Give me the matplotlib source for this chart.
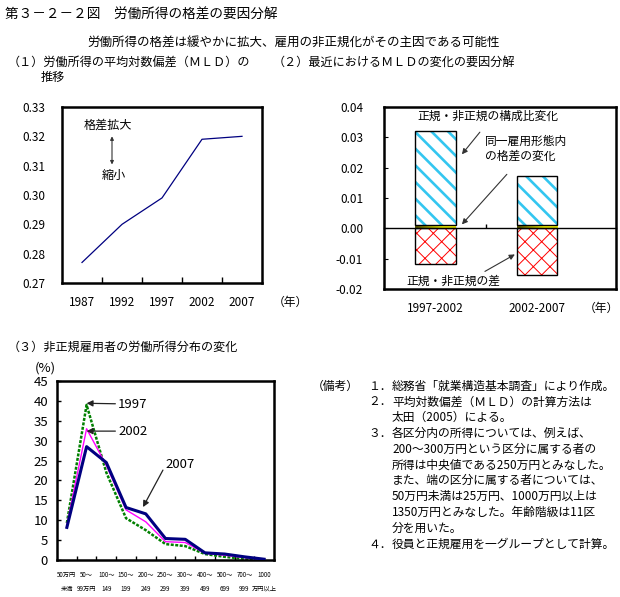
import matplotlib
matplotlib.use('Agg')
import numpy as np
import matplotlib.pyplot as plt
from matplotlib.colors import LinearSegmentedColormap

plt.rcParams['font.family'] = ['Noto Sans CJK JP', 'DejaVu Sans']

W, H = 620, 597

# (1) MLD trend
mld_years = ['1987', '1992', '1997', '2002', '2007']
mld_values = [0.277, 0.290, 0.299, 0.319, 0.320]

# (2) decomposition of MLD change
periods = ['1997-2002', '2002-2007']
within_change = [0.001, 0.001]
composition_change = [0.031, 0.0164]
gap_change = [-0.0119, -0.0155]

# (3) income distribution of non-regular workers (%)
income_top = ['50万円', '50～', '100～', '150～', '200～', '250～', '300～', '400～', '500～', '700～', '1000']
income_bottom = ['未満', '99万円', '149', '199', '249', '299', '399', '499', '699', '999', '万円以上']
share_1997 = [9.3, 39.0, 22.0, 10.5, 7.5, 4.0, 3.5, 1.5, 0.8, 0.3, 0.0]
share_2002 = [8.8, 33.0, 23.8, 12.6, 9.6, 4.6, 4.4, 1.7, 1.2, 0.6, 0.2]
share_2007 = [8.2, 28.5, 24.5, 13.2, 11.6, 5.4, 5.2, 1.8, 1.5, 0.8, 0.2]

notes = [
    ('１．', '総務省「就業構造基本調査」により作成。'),
    ('２．', '平均対数偏差（ＭＬＤ）の計算方法は'),
    ('', '太田（2005）による。'),
    ('３．', '各区分内の所得については、例えば、'),
    ('', '200～300万円という区分に属する者の'),
    ('', '所得は中央値である250万円とみなした。'),
    ('', 'また、端の区分に属する者については、'),
    ('', '50万円未満は25万円、1000万円以上は'),
    ('', '1350万円とみなした。年齢階級は11区'),
    ('', '分を用いた。'),
    ('４．', '役員と正規雇用を一グループとして計算。'),
]


def fx(x):
    return x / W


def fy(y):
    return 1 - y / H


def box(left, top, right, bottom):
    return [fx(left), fy(bottom), (right - left) / W, (bottom - top) / H]


fig = plt.figure(figsize=(6.2, 5.97), dpi=100)

fig.text(fx(5), fy(15), '第３－２－２図　労働所得の格差の要因分解', fontsize=9.8, va='center')
fig.text(fx(294), fy(43), '労働所得の格差は緩やかに拡大、雇用の非正規化がその主因である可能性',
         fontsize=9, va='center', ha='center')
fig.text(fx(8), fy(62), '（１）労働所得の平均対数偏差（ＭＬＤ）の', fontsize=8.7, va='center')
fig.text(fx(41), fy(77), '推移', fontsize=8.7, va='center')
fig.text(fx(273), fy(62), '（２）最近におけるＭＬＤの変化の要因分解', fontsize=8.7, va='center')
fig.text(fx(8), fy(347), '（３）非正規雇用者の労働所得分布の変化', fontsize=8.7, va='center')

# ---- panel 1
ax1 = fig.add_axes(box(62, 107, 262, 283))
x1 = np.arange(len(mld_years))
ax1.plot(x1, mld_values, color='#000080', lw=0.9)
ax1.set_xlim(-0.5, len(mld_years) - 0.5)
ax1.set_ylim(0.27, 0.33)
ax1.set_yticks(np.arange(0.27, 0.3301, 0.01))
ax1.set_yticklabels(['%.2f' % v for v in np.arange(0.27, 0.3301, 0.01)])
ax1.set_xticks(x1)
ax1.set_xticklabels(mld_years)
ax1.set_xticks(x1[:-1] + 0.5, minor=True)
ax1.tick_params(axis='x', which='major', length=0, pad=9, labelsize=8.5)
ax1.tick_params(axis='x', which='minor', direction='in', length=4, width=1)
ax1.tick_params(axis='y', length=0, pad=12, labelsize=8.5)
for s in ax1.spines.values():
    s.set_linewidth(1.8)
ax1.text(0.65, 0.3239, '格差拡大', fontsize=8.7, ha='center', va='center')
ax1.text(0.8, 0.3068, '縮小', fontsize=8.7, ha='center', va='center')
ax1.annotate('', xy=(0.75, 0.3200), xytext=(0.75, 0.3104),
             arrowprops=dict(arrowstyle='<|-|>', color='#333333', lw=0.8,
                             mutation_scale=5, shrinkA=0, shrinkB=0))
fig.text(fx(273), fy(302), '（年）', fontsize=8.5, va='center')

# ---- panel 2
ax2 = fig.add_axes(box(384, 107, 616, 289))
x2 = np.arange(len(periods))
bw = 0.4
band_cmap = LinearSegmentedColormap.from_list('band', ['#555500', '#b0b000', '#ffff00', '#ffff00'])
grad = np.linspace(0, 1, 64).reshape(1, -1)
for xi, w in zip(x2, within_change):
    ax2.imshow(grad, cmap=band_cmap, aspect='auto', extent=[xi - bw / 2, xi + bw / 2, 0, w], zorder=2)
with plt.rc_context({'hatch.linewidth': 1.9}):
    ax2.bar(x2, composition_change, bw, bottom=within_change, color='white',
            edgecolor='#33c6f0', hatch='\\\\', lw=0, zorder=2)
with plt.rc_context({'hatch.linewidth': 0.7}):
    ax2.bar(x2, gap_change, bw, color='white', edgecolor='#ff0000', hatch='xx', lw=0, zorder=2)
ax2.bar(x2, composition_change, bw, bottom=within_change, fill=False, edgecolor='black', lw=1, zorder=3)
ax2.bar(x2, gap_change, bw, fill=False, edgecolor='black', lw=1, zorder=3)
ax2.set_xlim(-0.507, 1.78)
ax2.set_ylim(-0.02, 0.04)
yt2 = np.arange(-0.02, 0.0401, 0.01)
ax2.set_yticks(yt2)
ax2.set_yticklabels(['%.2f' % v if abs(v) > 1e-9 else '0.00' for v in yt2])
ax2.set_xticks(x2)
ax2.set_xticklabels(periods)
ax2.tick_params(axis='x', length=0, pad=9.5, labelsize=8.5)
ax2.tick_params(axis='y', direction='in', length=3, pad=15, labelsize=8.5)
for s in ax2.spines.values():
    s.set_linewidth(1.8)
# zero line: a secondary x axis placed where y = 0
zero_frac = (0 - ax2.get_ylim()[0]) / (ax2.get_ylim()[1] - ax2.get_ylim()[0])
zero_axis = ax2.secondary_xaxis(zero_frac)
zero_axis.set_xticks([0.5])
zero_axis.set_xticklabels([])
zero_axis.tick_params(direction='in', length=3, width=1)
zero_axis.spines['bottom'].set_linewidth(1)
zero_axis.set_zorder(4)

arrow_kw = dict(arrowstyle='-|>', color='#333333', lw=0.8, mutation_scale=8, shrinkA=0, shrinkB=0)
ax2.text(0.517, 0.0369, '正規・非正規の構成比変化', fontsize=8.5, ha='center', va='center')
ax2.annotate('', xy=(0.261, 0.0244), xytext=(0.438, 0.0317), arrowprops=arrow_kw)
ax2.text(0.49, 0.0262, '同一雇用形態内\nの格差の変化', fontsize=8.5, ha='left', va='center',
         linespacing=1.25)
ax2.annotate('', xy=(0.261, 0.0013), xytext=(0.704, 0.0178), arrowprops=arrow_kw)
ax2.text(0.172, -0.0175, '正規・非正規の差', fontsize=8.5, ha='center', va='center')
ax2.annotate('', xy=(0.783, -0.0086), xytext=(0.488, -0.0142), arrowprops=arrow_kw)
fig.text(fx(584), fy(308), '（年）', fontsize=8.5, va='center')

# ---- panel 3
ax3 = fig.add_axes(box(57, 381, 274, 560))
x3 = np.arange(len(income_top))
ax3.plot(x3, share_1997, color='#008000', lw=1.8, ls=(0, (1.2, 0.6)), zorder=2)
ax3.plot(x3, share_2002, color='#ff00ff', lw=1.0, zorder=3)
ax3.plot(x3, share_2007, color='#000080', lw=2.2, zorder=4)
ax3.set_xlim(-0.5, len(income_top) - 0.5)
ax3.set_ylim(0, 45)
ax3.set_yticks(np.arange(0, 46, 5))
ax3.set_xticks(x3)
ax3.set_xticklabels([t + '\n' + b for t, b in zip(income_top, income_bottom)], linespacing=1.9)
ax3.set_xticks(x3[:-1] + 0.5, minor=True)
ax3.tick_params(axis='x', which='major', length=0, pad=8, labelsize=4.5)
ax3.tick_params(axis='x', which='minor', direction='in', length=3, width=1)
ax3.tick_params(axis='y', direction='in', length=3, width=1, pad=6.5, labelsize=9.5)
for s in ax3.spines.values():
    s.set_linewidth(1.8)
ax3.text(-0.055, 1.075, '(%)', transform=ax3.transAxes, fontsize=9.5, ha='center', va='center')
kw3 = dict(arrowstyle='-|>', color='#222222', lw=0.9, mutation_scale=9, shrinkA=0, shrinkB=0)
ax3.annotate('1997', xy=(1.0, 39.4), xytext=(2.6, 39.2), fontsize=9.5, va='center',
             arrowprops=kw3)
ax3.annotate('2002', xy=(1.0, 32.4), xytext=(2.6, 32.4), fontsize=9.5, va='center',
             arrowprops=kw3)
ax3.text(5.0, 24.0, '2007', fontsize=9.5, va='center')
ax3.annotate('', xy=(3.86, 13.3), xytext=(4.87, 22.6), arrowprops=kw3)

# ---- notes
note_y0, note_dy = 386, 15.8
fig.text(fx(312), fy(note_y0), '（備考）', fontsize=8.5, va='center')
for i, (num, line) in enumerate(notes):
    y = note_y0 + i * note_dy
    if num:
        fig.text(fx(368), fy(y), num, fontsize=8.5, va='center')
    fig.text(fx(392), fy(y), line, fontsize=8.5, va='center')

fig.savefig('out.png', dpi=100)
